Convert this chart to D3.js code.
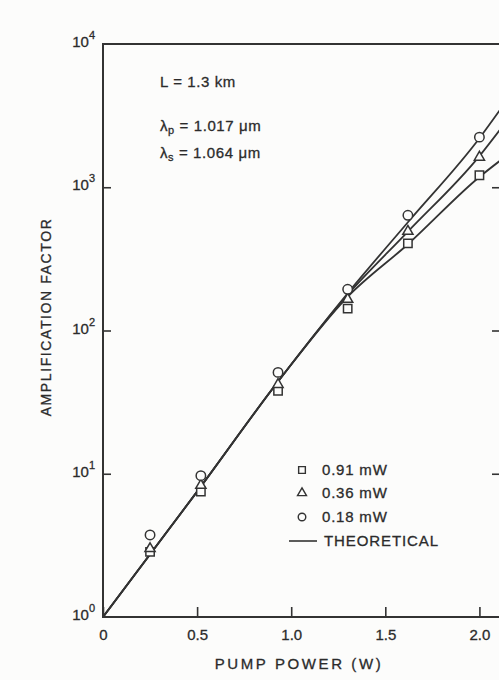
<!DOCTYPE html>
<html>
<head>
<meta charset="utf-8">
<script src="https://cdn.jsdelivr.net/npm/d3@7"></script>
<style>
  body { margin: 0; background: #fcfcfb; }
  svg { display: block; }
  text { font-family: "Liberation Sans", "DejaVu Sans", sans-serif; fill: #2b2b2b; stroke: #2b2b2b; stroke-width: 0.3px; }
</style>
</head>
<body>
<div id="chart"></div>
<script>
// measured points (pump power in W, amplification factor)
const powers = [0.25, 0.52, 0.93, 1.3, 1.62, 2.0];
const gain091 = [2.85, 7.5, 38, 142, 406, 1213];
const gain036 = [3.0, 8.3, 42, 165, 492, 1620];
const gain018 = [3.74, 9.7, 51, 194, 637, 2238];

// theoretical curves
const theoPower = [0, 0.5, 0.93, 1.3, 1.62, 2.0, 2.12];
const theo091 = [1, 7.5, 44, 172, 400, 1180, 1570];
const theo036 = [1, 7.5, 44, 178, 490, 1650, 2630];
const theo018 = [1, 7.5, 44, 182, 570, 2200, 3630];

const xTicks = [0, 0.5, 1.0, 1.5, 2.0];
const yTicks = [1, 10, 100, 1000, 10000];
const legendLabels = ['0.91 mW', '0.36 mW', '0.18 mW', 'THEORETICAL'];

const width = 499, height = 680;
const margin = {top: 44, right: -3, bottom: 63, left: 103};
const innerW = width - margin.left - margin.right;
const innerH = height - margin.top - margin.bottom;
const ink = '#333';

const svg = d3.select('#chart').append('svg')
  .attr('width', width)
  .attr('height', height);

const g = svg.append('g')
  .attr('transform', 'translate(' + margin.left + ',' + margin.top + ')');

const x = d3.scaleLinear().domain([0, 2.12]).range([0, innerW]);
const y = d3.scaleLog().domain([1, 10000]).range([innerH, 0]);

g.append('clipPath').attr('id', 'plotclip')
  .append('rect').attr('width', innerW).attr('height', innerH);

// x axis (ticks pointing inward)
const xAxis = g.append('g')
  .attr('transform', 'translate(0,' + innerH + ')')
  .call(d3.axisBottom(x).tickValues(xTicks).tickSize(-10).tickPadding(12)
    .tickFormat(d => d === 0 ? '0' : d3.format('.1f')(d)));
xAxis.select('.domain').remove();
xAxis.selectAll('line').attr('stroke', ink).attr('stroke-width', 1.6);
xAxis.selectAll('text').style('font-size', '15px').attr('fill', '#2b2b2b');

// y axis left, inward ticks, custom power-of-ten labels
const yAxis = g.append('g')
  .call(d3.axisLeft(y).tickValues(yTicks.slice(1, -1)).tickSize(-8).tickFormat(''));
yAxis.select('.domain').remove();
yAxis.selectAll('line').attr('stroke', ink).attr('stroke-width', 1.6);

const yAxisR = g.append('g')
  .attr('transform', 'translate(' + innerW + ',0)')
  .call(d3.axisRight(y).tickValues(yTicks.slice(1, -1)).tickSize(-10).tickFormat(''));
yAxisR.select('.domain').remove();
yAxisR.selectAll('line').attr('stroke', ink).attr('stroke-width', 1.6);

yTicks.forEach(v => {
  const t = g.append('text')
    .attr('x', -8)
    .attr('y', y(v) + 3)
    .attr('text-anchor', 'end')
    .style('font-size', '15px');
  t.append('tspan').text('10');
  t.append('tspan').attr('dy', -8).style('font-size', '11px').text(Math.round(Math.log10(v)));
});

// frame
g.append('rect')
  .attr('width', innerW).attr('height', innerH)
  .attr('fill', 'none').attr('stroke', ink).attr('stroke-width', 2);

// axis titles
svg.append('text')
  .attr('x', 299).attr('y', 669)
  .attr('text-anchor', 'middle')
  .style('font-size', '15px').style('letter-spacing', '2.6px')
  .text('PUMP POWER (W)');

svg.append('text')
  .attr('transform', 'translate(51,317) rotate(-90)')
  .attr('text-anchor', 'middle')
  .style('font-size', '14px').style('letter-spacing', '1.6px')
  .text('AMPLIFICATION  FACTOR');

// theoretical lines
const line = d3.line()
  .x(d => x(d[0]))
  .y(d => y(d[1]))
  .curve(d3.curveMonotoneX);

const plot = g.append('g').attr('clip-path', 'url(#plotclip)');
[theo091, theo036, theo018].forEach(arr => {
  plot.append('path')
    .attr('d', line(theoPower.map((p, i) => [p, arr[i]])))
    .attr('fill', 'none')
    .attr('stroke', ink)
    .attr('stroke-width', 1.8);
});

// markers
const sym = {
  square: d3.symbol().type(d3.symbolSquare).size(70),
  triangle: d3.symbol().type(d3.symbolTriangle).size(45),
  circle: d3.symbol().type(d3.symbolCircle).size(70)
};
const series = [
  {vals: gain091, shape: 'square'},
  {vals: gain036, shape: 'triangle'},
  {vals: gain018, shape: 'circle'}
];
series.forEach(s => {
  plot.selectAll(null)
    .data(powers.map((p, i) => [p, s.vals[i]]))
    .enter()
    .append('path')
    .attr('d', sym[s.shape])
    .attr('transform', d => 'translate(' + x(d[0]) + ',' + y(d[1]) + ')')
    .attr('fill', '#fcfcfb')
    .attr('stroke', ink)
    .attr('stroke-width', 1.5);
});

// annotations
const ann = svg.append('g').style('font-size', '15px').style('letter-spacing', '0.6px');
ann.append('text').attr('x', 160).attr('y', 87).text('L = 1.3 km');
const a1 = ann.append('text').attr('x', 160).attr('y', 131);
a1.append('tspan').text('λ');
a1.append('tspan').attr('dy', 3).style('font-size', '11px').text('p');
a1.append('tspan').attr('dy', -3).text(' = 1.017 μm');
const a2 = ann.append('text').attr('x', 160).attr('y', 158);
a2.append('tspan').text('λ');
a2.append('tspan').attr('dy', 3).style('font-size', '11px').text('s');
a2.append('tspan').attr('dy', -3).text(' = 1.064 μm');

// legend
const legend = svg.append('g');
const legendY = [470, 493, 517, 541];
['square', 'triangle', 'circle'].forEach((shape, i) => {
  legend.append('path')
    .attr('d', d3.symbol().type(shape === 'square' ? d3.symbolSquare : shape === 'triangle' ? d3.symbolTriangle : d3.symbolCircle).size(shape === 'triangle' ? 35 : 45))
    .attr('transform', 'translate(302,' + legendY[i] + ')')
    .attr('fill', 'none').attr('stroke', ink).attr('stroke-width', 1.4);
});
legend.append('line')
  .attr('x1', 289).attr('x2', 317)
  .attr('y1', legendY[3]).attr('y2', legendY[3])
  .attr('stroke', ink).attr('stroke-width', 1.6);
legendLabels.forEach((lab, i) => {
  legend.append('text')
    .attr('x', i === 3 ? 324 : 322)
    .attr('y', legendY[i] + 5)
    .style('font-size', '15px')
    .style('letter-spacing', i === 3 ? '0.9px' : '0.8px')
    .text(lab);
});
</script>
</body>
</html>
